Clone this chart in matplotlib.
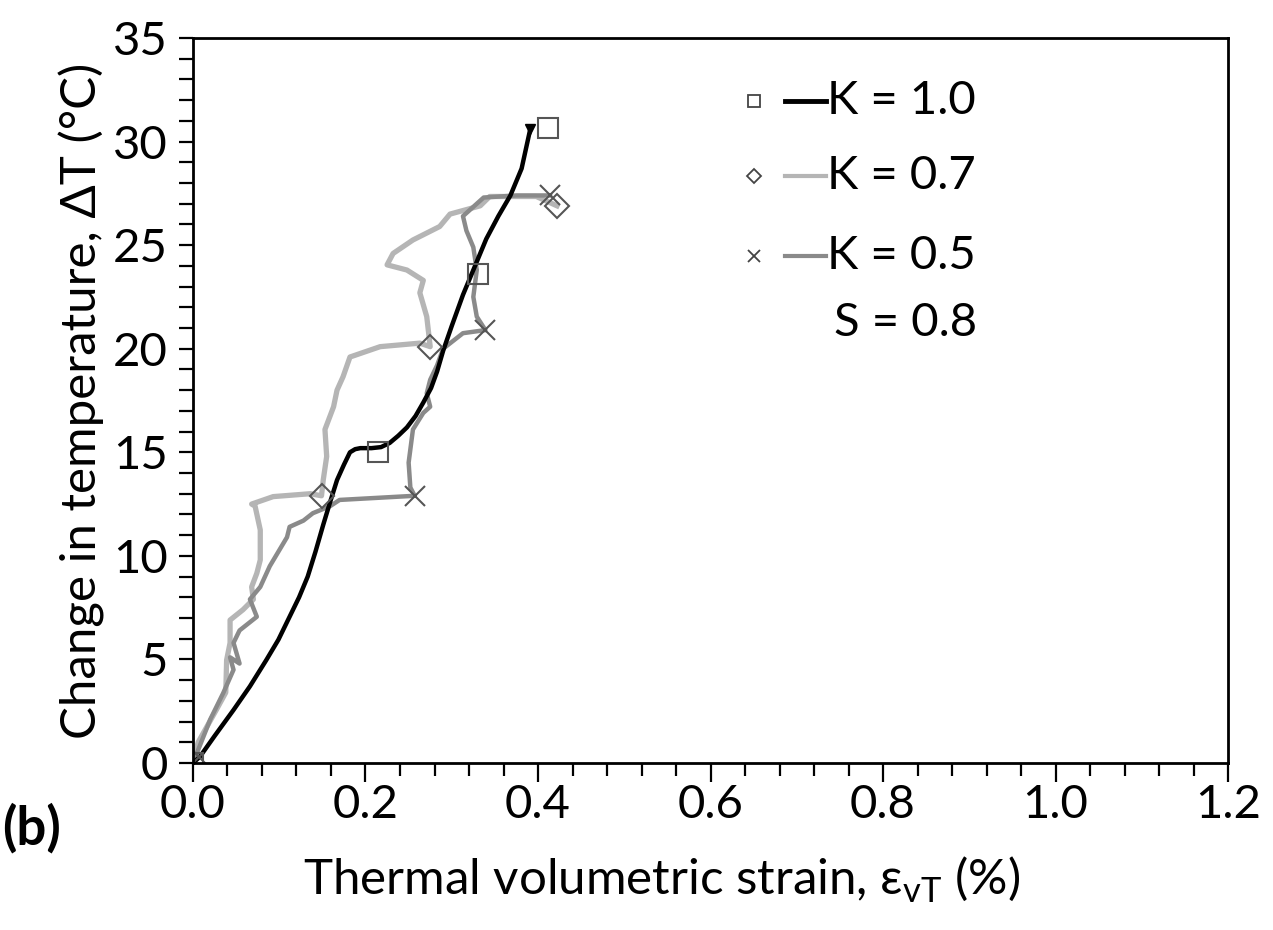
import numpy as np
import matplotlib
matplotlib.use("Agg")
import matplotlib.pyplot as plt
from matplotlib.ticker import MultipleLocator

plt.rcParams['font.family'] = ['Lato', 'DejaVu Sans']
plt.rcParams['mathtext.fontset'] = 'custom'
plt.rcParams['mathtext.rm'] = 'Lato'

# K = 1.0 (black, smooth)
k10_x = [0, 0.008, 0.025, 0.047, 0.066, 0.085, 0.099, 0.112, 0.123, 0.133, 0.142, 0.151,
         0.159, 0.167, 0.175, 0.182, 0.188, 0.194, 0.207, 0.218, 0.228, 0.238, 0.248,
         0.258, 0.267, 0.276, 0.283, 0.290, 0.300, 0.313, 0.327, 0.340, 0.354, 0.368,
         0.381, 0.391]
k10_y = [0, 0.3, 1.3, 2.56, 3.7, 4.97, 5.95, 7.06, 8.0, 9.0, 10.2, 11.5,
         12.6, 13.66, 14.4, 15.0, 15.15, 15.2, 15.2, 15.25, 15.45, 15.8, 16.2,
         16.75, 17.4, 18.1, 18.9, 19.9, 21.1, 22.6, 24.0, 25.3, 26.4, 27.4,
         28.7, 30.6]
k10_mx = [0.0, 0.215, 0.331, 0.412]
k10_my = [0.0, 15.0, 23.6, 30.65]

# K = 0.7 (light grey, jagged)
k07_x = [0, 0.006, 0.027, 0.038, 0.039, 0.043, 0.043, 0.058, 0.070, 0.068, 0.074, 0.078,
         0.078, 0.072, 0.068, 0.093, 0.136, 0.149, 0.151, 0.155, 0.153, 0.163, 0.167, 0.174,
         0.182, 0.217, 0.263, 0.275, 0.271, 0.263, 0.267, 0.248, 0.225, 0.232, 0.255,
         0.286, 0.298, 0.333, 0.344, 0.398, 0.422]
k07_y = [0, 1.0, 2.56, 3.4, 4.97, 5.8, 6.9, 7.4, 7.9, 8.5, 9.16, 9.8,
         11.25, 12.4, 12.5, 12.86, 13.0, 12.9, 13.66, 14.8, 16.1, 17.2, 18.0, 18.65,
         19.6, 20.1, 20.27, 20.1, 21.55, 22.7, 23.3, 23.8, 24.05, 24.6, 25.25,
         25.9, 26.5, 26.9, 27.35, 27.35, 26.9]
k07_mx = [0.0, 0.149, 0.275, 0.422]
k07_my = [0.0, 12.9, 20.1, 26.9]

# K = 0.5 (medium grey, jagged)
k05_x = [0, 0.020, 0.035, 0.047, 0.043, 0.054, 0.047, 0.054, 0.074, 0.066, 0.078, 0.089,
         0.109, 0.112, 0.128, 0.139, 0.159, 0.170, 0.257, 0.252, 0.250, 0.255, 0.267,
         0.275, 0.271, 0.275, 0.283, 0.290, 0.313, 0.339, 0.329, 0.325, 0.329, 0.325,
         0.317, 0.313, 0.337, 0.375, 0.414]
k05_y = [0, 2.1, 3.37, 4.5, 5.1, 4.8, 5.8, 6.4, 7.06, 7.9, 8.5, 9.5,
         10.9, 11.4, 11.7, 12.06, 12.4, 12.7, 12.9, 13.3, 14.5, 16.1, 16.9,
         17.2, 17.85, 18.5, 19.2, 20.0, 20.75, 20.9, 21.55, 22.5, 23.8, 24.9,
         25.7, 26.4, 27.3, 27.4, 27.4]
k05_mx = [0.0, 0.257, 0.339, 0.414]
k05_my = [0.0, 12.9, 20.9, 27.4]

labels = ['K = 1.0', 'K = 0.7', 'K = 0.5']

fig = plt.figure(figsize=(12.73, 9.30), dpi=100)
ax = fig.add_axes([0.1516, 0.1796, 0.8131, 0.7795])

light = '#b5b5b5'
mid = '#8a8a8a'
ax.plot(k07_x, k07_y, color=light, lw=3.8, solid_joinstyle='round')
ax.plot(k05_x, k05_y, color=mid, lw=3.2, solid_joinstyle='round')
ax.plot(k10_x, k10_y, color='black', lw=3.2, solid_joinstyle='round')
ax.plot([k10_x[-1]], [k10_y[-1]], marker='v', color='black', ms=7)

mk = dict(ls='none', mfc='none', ms=15, mew=1.5)
ax.plot(k10_mx, k10_my, marker='s', mec='#555555', **mk)
ax.plot(k07_mx, k07_my, marker='D', mec='#555555', **dict(mk, ms=12))
ax.plot(k05_mx, k05_my, marker='x', mec='#555555', ls='none', ms=15, mew=1.5)

ax.set_xlim(0, 1.2)
ax.set_ylim(0, 35)
ax.xaxis.set_major_locator(MultipleLocator(0.2))
ax.xaxis.set_minor_locator(MultipleLocator(0.04))
ax.yaxis.set_major_locator(MultipleLocator(5))
ax.yaxis.set_minor_locator(MultipleLocator(1))
ax.xaxis.set_major_formatter(matplotlib.ticker.FormatStrFormatter('%.1f'))
ax.tick_params(axis='both', which='both', direction='out', width=1.6, labelsize=34)
ax.tick_params(axis='x', which='major', length=14, pad=1.5)
ax.tick_params(axis='x', which='minor', length=9)
ax.tick_params(axis='y', which='both', length=10)
ax.tick_params(axis='y', which='major', pad=8)
for s in ax.spines.values():
    s.set_linewidth(2.0)

ax.set_xlabel(r'Thermal volumetric strain, ε$_\mathregular{vT}$ (%)', fontsize=35.5)
ax.xaxis.set_label_coords(0.453, -0.127)
ax.set_ylabel('Change in temperature, ΔT (°C)', fontsize=35.5, labelpad=6)

# hand-drawn legend
rows = [(0.9135, 's', 'black', 3.5, labels[0]),
        (0.8100, 'D', light, 3.0, labels[1]),
        (0.7000, 'x', mid, 3.0, labels[2])]
for yy, m, c, lw, lab in rows:
    ax.plot([0.5418], [yy], marker=m, mfc='none', mec='#444444', ms=9 if m != 'D' else 7,
            mew=1.3, transform=ax.transAxes, clip_on=False)
    ax.plot([0.572, 0.612], [yy, yy], color=c, lw=lw, transform=ax.transAxes)
    ax.text(0.613, yy, lab, fontsize=34, va='center', ha='left', transform=ax.transAxes)
ax.text(0.619, 0.607, 'S = 0.8', fontsize=34, va='center', ha='left', transform=ax.transAxes)

fig.text(0.002, 0.11, '(b)', fontsize=38, fontweight='bold', ha='left', va='center')

fig.savefig('out.png', dpi=100)
